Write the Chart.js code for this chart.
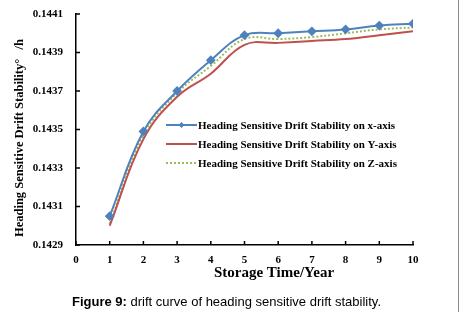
<!DOCTYPE html>
<html><head><meta charset="utf-8">
<script src="https://cdn.jsdelivr.net/npm/chart.js@4/dist/chart.umd.min.js"></script>
<style>html,body{margin:0;padding:0;background:#fff;}#wrap{width:460px;height:314px;position:relative;}</style>
</head><body><div id="wrap"><canvas id="c" width="460" height="314"></canvas></div>
<script>
const years = [1, 2, 3, 4, 5, 6, 7, 8, 9, 10];
const xAxisDrift = [0.14305, 0.14349, 0.14370, 0.14386, 0.14399, 0.14400, 0.14401, 0.14402, 0.14404, 0.14405];
const yAxisDrift = [0.14300, 0.14345, 0.14367, 0.14379, 0.14394, 0.14395, 0.14396, 0.14397, 0.14399, 0.14401];
const zAxisDrift = [0.14301, 0.14347, 0.14369, 0.14383, 0.14397, 0.14397, 0.14398, 0.14400, 0.14402, 0.14403];
const seriesNames = ['Heading Sensitive Drift Stability on x-axis', 'Heading Sensitive Drift Stability on Y-axis', 'Heading Sensitive Drift Stability on Z-axis'];
const xTitle = 'Storage Time/Year';
const yTitle = 'Heading Sensitive Drift Stability\u00B0   /h';
const captionBold = 'Figure 9:';
const captionText = ' drift curve of heading sensitive drift stability.';

const pts = arr => years.map((y, i) => ({x: y, y: arr[i]}));
const SERIF = '"Liberation Serif", "Times New Roman", serif';
const SANS = '"Liberation Sans", Arial, sans-serif';

const extras = {
  id: 'extras',
  afterDraw(chart) {
    const ctx = chart.ctx, a = chart.chartArea;
    const xs = chart.scales.x, ys = chart.scales.y;
    ctx.save();
    ctx.strokeStyle = '#000'; ctx.lineWidth = 1.5;
    ys.ticks.forEach(t => { const p = ys.getPixelForValue(t.value); ctx.beginPath(); ctx.moveTo(a.left, p); ctx.lineTo(a.left + 4, p); ctx.stroke(); });
    xs.ticks.forEach(t => { const p = xs.getPixelForValue(t.value); ctx.beginPath(); ctx.moveTo(p, a.bottom); ctx.lineTo(p, a.bottom - 4); ctx.stroke(); });
    ctx.fillStyle = '#000';
    ctx.font = 'bold 15px ' + SERIF; ctx.textAlign = 'center'; ctx.textBaseline = 'middle';
    ctx.fillText(xTitle, 274, 273);
    ctx.save(); ctx.translate(20, 138); ctx.rotate(-Math.PI / 2);
    ctx.font = 'bold 12.5px ' + SERIF; ctx.fillText(yTitle, 0, 0); ctx.restore();
    const ds = chart.data.datasets;
    ctx.font = 'bold 11px ' + SERIF; ctx.textAlign = 'left';
    ds.forEach((d, i) => {
      const y = 125 + i * 19;
      const x0 = 166, x1 = 197;
      ctx.strokeStyle = d.borderColor; ctx.lineWidth = d.borderWidth; ctx.setLineDash(d.borderDash || []);
      ctx.beginPath(); ctx.moveTo(x0, y); ctx.lineTo(x1, y); ctx.stroke(); ctx.setLineDash([]);
      if (d.pointRadius > 0) {
        ctx.fillStyle = d.pointBackgroundColor; const cx = (x0 + x1) / 2, r = 3;
        ctx.beginPath(); ctx.moveTo(cx, y - r); ctx.lineTo(cx + r, y); ctx.lineTo(cx, y + r); ctx.lineTo(cx - r, y); ctx.closePath(); ctx.fill();
      }
      ctx.fillStyle = '#000'; ctx.fillText(d.label, x1 + 1, y + 1);
    });
    ctx.font = 'bold 13px ' + SANS; ctx.textAlign = 'left';
    const cx0 = 72; ctx.fillText(captionBold, cx0, 302);
    const w = ctx.measureText(captionBold).width;
    ctx.font = '13px ' + SANS; ctx.fillText(captionText, cx0 + w, 302);
    ctx.strokeStyle = '#8a8a8a'; ctx.lineWidth = 1;
    ctx.beginPath(); ctx.moveTo(458.5, 0); ctx.lineTo(458.5, 312); ctx.stroke();
    ctx.restore();
  }
};

new Chart(document.getElementById('c'), {
  type: 'line',
  data: {
    datasets: [
      {label: seriesNames[0], data: pts(xAxisDrift), borderColor: '#4F81BD', backgroundColor: '#4F81BD', pointBackgroundColor: '#4F81BD', pointBorderColor: '#4F81BD', borderWidth: 2, pointStyle: 'rectRot', pointRadius: 3.5, tension: 0.4},
      {label: seriesNames[1], data: pts(yAxisDrift), borderColor: '#C0504D', backgroundColor: '#C0504D', borderWidth: 2, pointRadius: 0, tension: 0.4},
      {label: seriesNames[2], data: pts(zAxisDrift), borderColor: '#9BBB59', backgroundColor: '#9BBB59', borderWidth: 2, borderDash: [2, 2], pointRadius: 0, tension: 0.4}
    ]
  },
  options: {
    responsive: false, animation: false, devicePixelRatio: 1,
    layout: {padding: {left: 0, top: 14, right: 47, bottom: 0}},
    plugins: {legend: {display: false}, tooltip: {enabled: false}},
    scales: {
      x: {type: 'linear', min: 0, max: 10,
        afterFit: s => { s.height = 69; s.paddingLeft = 0; s.paddingRight = 0; },
        grid: {display: true, drawOnChartArea: false, drawTicks: false},
        border: {display: true, color: '#000', width: 1.5},
        ticks: {stepSize: 1, padding: 9, color: '#000', font: {family: SERIF, size: 11, weight: 'bold'}}},
      y: {min: 0.1429, max: 0.1441,
        afterFit: s => { s.width = 76; s.paddingTop = 0; s.paddingBottom = 0; },
        grid: {display: true, drawOnChartArea: false, drawTicks: false},
        border: {display: true, color: '#000', width: 1.5},
        ticks: {stepSize: 0.0002, padding: 13, color: '#000', font: {family: SERIF, size: 11, weight: 'bold'}, callback: v => Number(v).toFixed(4)}}
    }
  },
  plugins: [extras]
});
</script></body></html>
